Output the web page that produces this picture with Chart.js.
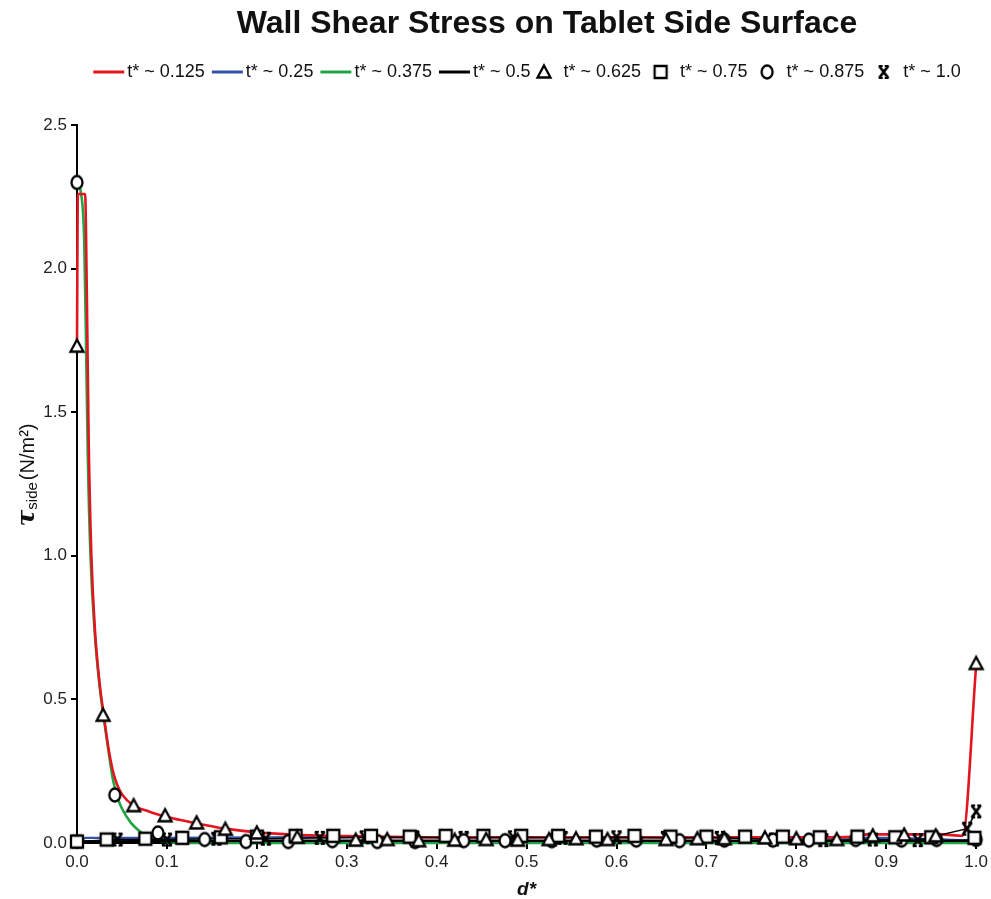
<!DOCTYPE html>
<html>
<head>
<meta charset="utf-8">
<title>Wall Shear Stress on Tablet Side Surface</title>
<script src="https://cdn.jsdelivr.net/npm/chart.js@4/dist/chart.umd.min.js"></script>
<style>
  html, body { margin: 0; padding: 0; background: #fff; }
  #wrap { width: 991px; height: 899px; position: relative; }
</style>
</head>
<body>
<div id="wrap"><canvas id="c"></canvas></div>
<script>
// Normalised distance d* and side-wall shear stress (N/m²) for each time fraction t*.

// t* ~ 0.125 (red curve)
const redX = [0, 0.001, 0.009, 0.011, 0.013, 0.016, 0.02, 0.025, 0.03, 0.035, 0.04, 0.045, 0.05, 0.063, 0.08, 0.098, 0.115, 0.133, 0.15, 0.165, 0.2, 0.25, 0.3, 0.4, 0.5, 0.6, 0.7, 0.8, 0.86, 0.88, 0.92, 0.96, 0.985, 1.0];
const redY = [1.75, 2.26, 2.26, 1.9, 1.4, 1.0, 0.74, 0.56, 0.44, 0.33, 0.25, 0.2, 0.17, 0.13, 0.11, 0.092, 0.08, 0.068, 0.058, 0.05, 0.037, 0.028, 0.024, 0.02, 0.02, 0.02, 0.02, 0.02, 0.022, 0.03, 0.03, 0.03, 0.025, 0.62];

// t* ~ 0.25 (blue curve)
const blueX = [0, 0.01, 0.1, 0.3, 0.5, 0.7, 0.9, 0.96, 0.985, 1.0];
const blueY = [0.0, 0.018, 0.018, 0.02, 0.02, 0.02, 0.018, 0.012, 0.01, 0.01];

// t* ~ 0.375 (green curve)
const greenX = [0, 0.004, 0.008, 0.01, 0.012, 0.015, 0.02, 0.025, 0.03, 0.035, 0.04, 0.045, 0.05, 0.06, 0.07, 0.08, 0.09, 0.1, 0.15, 0.3, 0.5, 0.7, 0.9, 1.0];
const greenY = [2.3, 2.27, 2.1, 1.75, 1.35, 1.0, 0.72, 0.55, 0.43, 0.32, 0.22, 0.16, 0.12, 0.07, 0.04, 0.02, 0.01, 0.003, 0.0, 0.0, 0.0, 0.0, 0.0, 0.0];

// t* ~ 0.5 (black curve)
const blackX = [0, 0.2, 0.5, 0.8, 1.0];
const blackY = [0.005, 0.008, 0.008, 0.008, 0.008];

// t* ~ 0.625 (triangles)
const triX = [0, 0.029, 0.063, 0.098, 0.133, 0.165, 0.2, 0.245, 0.31, 0.345, 0.38, 0.42, 0.455, 0.49, 0.525, 0.555, 0.59, 0.655, 0.69, 0.72, 0.765, 0.8, 0.845, 0.885, 0.92, 0.955, 1.0];
const triY = [1.73, 0.445, 0.13, 0.095, 0.07, 0.048, 0.035, 0.02, 0.01, 0.012, 0.008, 0.01, 0.012, 0.01, 0.012, 0.015, 0.012, 0.012, 0.015, 0.015, 0.018, 0.015, 0.012, 0.025, 0.028, 0.025, 0.625];

// t* ~ 0.75 (squares)
const sqX = [0, 0.033, 0.076, 0.117, 0.16, 0.2, 0.243, 0.285, 0.327, 0.37, 0.41, 0.452, 0.494, 0.535, 0.577, 0.62, 0.66, 0.7, 0.743, 0.785, 0.826, 0.868, 0.91, 0.95, 0.998];
const sqY = [0.005, 0.012, 0.015, 0.018, 0.02, 0.022, 0.025, 0.025, 0.025, 0.022, 0.025, 0.025, 0.025, 0.025, 0.022, 0.025, 0.022, 0.022, 0.022, 0.022, 0.02, 0.022, 0.02, 0.02, 0.018];

// t* ~ 0.875 (circles)
const circX = [0, 0.042, 0.09, 0.142, 0.188, 0.235, 0.284, 0.334, 0.376, 0.43, 0.476, 0.528, 0.578, 0.622, 0.67, 0.72, 0.774, 0.814, 0.866, 0.917, 0.956, 1.0];
const circY = [2.3, 0.167, 0.035, 0.012, 0.005, 0.005, 0.008, 0.005, 0.005, 0.008, 0.008, 0.008, 0.01, 0.01, 0.008, 0.01, 0.01, 0.01, 0.012, 0.01, 0.012, 0.012];

// t* ~ 1.0 (barred crosses)
const crossX = [0, 0.045, 0.1, 0.155, 0.21, 0.27, 0.32, 0.375, 0.43, 0.485, 0.54, 0.6, 0.655, 0.715, 0.775, 0.83, 0.885, 0.935, 0.99, 1.0];
const crossY = [0.005, 0.012, 0.012, 0.015, 0.015, 0.018, 0.02, 0.02, 0.018, 0.02, 0.018, 0.02, 0.018, 0.018, 0.012, 0.01, 0.012, 0.01, 0.05, 0.11];

const seriesLabels = ['t* ~ 0.125', 't* ~ 0.25', 't* ~ 0.375', 't* ~ 0.5', 't* ~ 0.625', 't* ~ 0.75', 't* ~ 0.875', 't* ~ 1.0'];
const xTicks = [0, 0.1, 0.2, 0.3, 0.4, 0.5, 0.6, 0.7, 0.8, 0.9, 1.0];
const yTicks = [0, 0.5, 1.0, 1.5, 2.0, 2.5];

const FONT = "'Liberation Sans', Arial, sans-serif";

function pairs(xs, ys) { return xs.map((x, i) => ({ x: x, y: ys[i] })); }

// Open black-outlined marker glyphs drawn onto small canvases
function makeMarker(kind) {
  const s = 20, c = document.createElement('canvas');
  c.width = s; c.height = s;
  const g = c.getContext('2d');
  g.lineWidth = 2.3; g.strokeStyle = '#000'; g.fillStyle = '#fff'; g.lineJoin = 'miter';
  g.beginPath();
  if (kind === 'tri') {
    g.moveTo(10, 3.5); g.lineTo(16.5, 15.5); g.lineTo(3.5, 15.5); g.closePath();
    g.fill(); g.stroke();
  } else if (kind === 'sq') {
    g.rect(4, 4, 12, 12); g.fill(); g.stroke();
  } else if (kind === 'circ') {
    g.ellipse(10, 10, 5.5, 6.5, 0, 0, Math.PI * 2); g.fill(); g.stroke();
  } else {
    g.lineWidth = 2.8;
    g.moveTo(5.5, 4); g.lineTo(14.5, 16);
    g.moveTo(14.5, 4); g.lineTo(5.5, 16);
    g.stroke();
    g.beginPath(); g.lineWidth = 2.2;
    g.moveTo(5, 4); g.lineTo(9, 4); g.moveTo(11, 4); g.lineTo(15, 4);
    g.moveTo(5, 16); g.lineTo(9, 16); g.moveTo(11, 16); g.lineTo(15, 16);
    g.stroke();
  }
  return c;
}
const markTri = makeMarker('tri'), markSq = makeMarker('sq'), markCirc = makeMarker('circ'), markCross = makeMarker('cross');

function lineSet(label, xs, ys, color, width, order) {
  return { label, data: pairs(xs, ys), borderColor: color, backgroundColor: color, borderWidth: width,
    pointRadius: 0, cubicInterpolationMode: 'monotone', order, clip: 4, legendKind: 'line' };
}
function markSet(label, xs, ys, img, order, withLine) {
  return { label, data: pairs(xs, ys), pointStyle: img, pointRadius: 6, showLine: !!withLine,
    borderColor: '#000', borderWidth: withLine ? 1.5 : 0, backgroundColor: '#fff', order, clip: false, legendKind: 'marker', marker: img };
}

const datasets = [
  lineSet(seriesLabels[0], redX, redY, '#e3161f', 2.6, 1),
  lineSet(seriesLabels[1], blueX, blueY, '#3352a6', 2.4, 3),
  lineSet(seriesLabels[2], greenX, greenY, '#22a446', 2.6, 4),
  lineSet(seriesLabels[3], blackX, blackY, '#000000', 2.4, 2),
  markSet(seriesLabels[4], triX, triY, markTri, 0),
  markSet(seriesLabels[5], sqX, sqY, markSq, 0),
  markSet(seriesLabels[6], circX, circY, markCirc, 0),
  markSet(seriesLabels[7], crossX, crossY, markCross, 0, true)
];

// Title, legend and axis titles drawn on the canvas
const decorations = {
  id: 'decorations',
  afterDraw(chart) {
    const ctx = chart.ctx;
    const area = chart.chartArea;
    ctx.save();
    ctx.fillStyle = '#111';
    ctx.textBaseline = 'middle';

    // Title
    ctx.font = "bold 32px " + FONT;
    ctx.textAlign = 'center';
    ctx.fillText('Wall Shear Stress on Tablet Side Surface', 547, 24);

    // Legend
    ctx.font = "18px " + FONT;
    ctx.textAlign = 'left';
    const items = chart.data.datasets.map(ds => {
      const tw = ctx.measureText(ds.label).width;
      const isLine = ds.legendKind === 'line';
      return { ds, tw, sym: isLine ? 31 : 13, gap: isLine ? 3 : 13, after: isLine ? 7 : 13 };
    });
    let total = 0;
    items.forEach((it, i) => { total += it.sym + it.gap + it.tw + (i < items.length - 1 ? it.after : 0); });
    let x = 527 - total / 2;
    const ly = 72;
    items.forEach(it => {
      if (it.ds.legendKind === 'line') {
        ctx.strokeStyle = it.ds.borderColor; ctx.lineWidth = 3;
        ctx.beginPath(); ctx.moveTo(x, ly); ctx.lineTo(x + it.sym, ly); ctx.stroke();
      } else {
        const m = it.ds.marker;
        ctx.drawImage(m, x + it.sym / 2 - m.width / 2, ly - m.height / 2);
      }
      x += it.sym + it.gap;
      ctx.fillStyle = '#111';
      ctx.fillText(it.ds.label, x, ly);
      x += it.tw + it.after;
    });

    // x-axis title
    ctx.textAlign = 'center';
    ctx.font = "bold italic 19px " + FONT;
    ctx.fillText('d*', (area.left + area.right) / 2, 890);

    // y-axis title: τ_side (N/m²)
    ctx.translate(28, 475);
    ctx.rotate(-Math.PI / 2);
    const fTau = "bold italic 25px 'DejaVu Serif', serif";
    const fSub = "15px " + FONT;
    const fUnit = "20px " + FONT;
    ctx.font = fTau; const wTau = ctx.measureText('τ').width;
    ctx.font = fSub; const wSub = ctx.measureText('side').width;
    ctx.font = fUnit; const wUnit = ctx.measureText('(N/m²)').width;
    let tx = -(wTau + wSub + 2 + wUnit) / 2;
    ctx.textAlign = 'left';
    ctx.font = fTau; ctx.fillText('τ', tx, -1); tx += wTau;
    ctx.font = fSub; ctx.fillText('side', tx, 5); tx += wSub + 2;
    ctx.font = fUnit; ctx.fillText('(N/m²)', tx, 0);
    ctx.restore();
  }
};

new Chart(document.getElementById('c'), {
  type: 'line',
  data: { datasets },
  plugins: [decorations],
  options: {
    responsive: true,
    maintainAspectRatio: false,
    animation: false,
    layout: { padding: { top: 125, right: 14, left: 0, bottom: 0 } },
    plugins: { legend: { display: false }, title: { display: false }, tooltip: { enabled: false } },
    scales: {
      x: {
        type: 'linear', min: 0, max: 1,
        afterBuildTicks: s => { s.ticks = xTicks.map(v => ({ value: v })); },
        afterFit: s => { s.height = 56; },
        ticks: { callback: v => v.toFixed(1), font: { family: FONT, size: 17 }, color: '#222', padding: 3, maxRotation: 0 },
        grid: { display: true, drawOnChartArea: false, drawTicks: true, tickLength: 6, color: '#000', lineWidth: 2 },
        border: { display: true, color: '#000', width: 2 }
      },
      y: {
        type: 'linear', min: 0, max: 2.5,
        afterBuildTicks: s => { s.ticks = yTicks.map(v => ({ value: v })); },
        afterFit: s => { s.width = 77; },
        ticks: { callback: v => v.toFixed(1), font: { family: FONT, size: 17 }, color: '#222', padding: 4 },
        grid: { display: true, drawOnChartArea: false, drawTicks: true, tickLength: 6, color: '#000', lineWidth: 2 },
        border: { display: true, color: '#000', width: 2 }
      }
    }
  }
});
</script>
</body>
</html>
